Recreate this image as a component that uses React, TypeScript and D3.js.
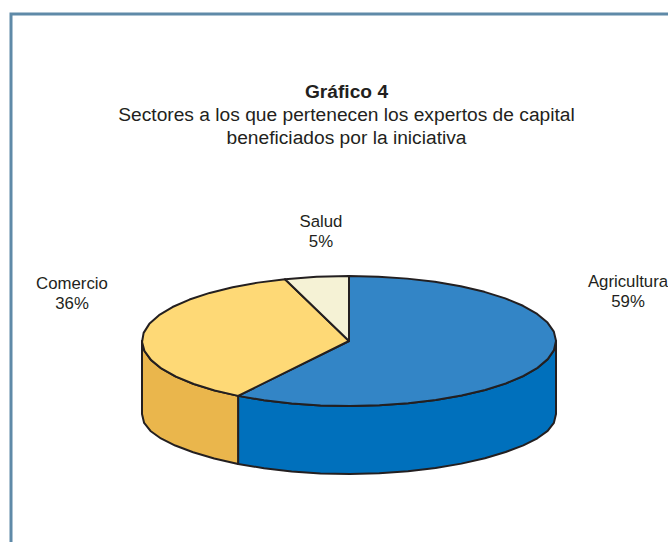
import React from "react";
import * as d3 from "d3";

const categories = ["Agricultura", "Comercio", "Salud"];
const values = [59, 36, 5];
const topColors = ["#3385c6", "#fed976", "#f5f2d5"];
const sideColors = ["#0070bc", "#eab64c", "#f5f2d5"];
const titleLines = ["Sectores a los que pertenecen los expertos de capital", "beneficiados por la iniciativa"];

const W = 668, H = 542;
const cx = 349, cy = 341, rx = 207, ry = 65, depth = 68;
const stroke = "#231f20";

const unitX = d3.scaleLinear().domain([-1, 1]).range([cx - rx, cx + rx]);
const unitY = d3.scaleLinear().domain([-1, 1]).range([cy - ry, cy + ry]);
const pieGen = d3.pie<number>().sort(null).startAngle(0).endAngle(2 * Math.PI);
const arcs = pieGen(values);
const line = d3.line<[number, number]>();

const pt = (a: number, dy = 0): [number, number] => [unitX(Math.sin(a)), unitY(-Math.cos(a)) + dy];
const rim = (a0: number, a1: number, dy = 0) => {
  const n = Math.max(2, Math.round((a1 - a0) / (Math.PI / 22)));
  return d3.range(n + 1).map((i) => pt(a0 + ((a1 - a0) * i) / n, dy));
};

// Visible wall: the front half of the disc (angles from 90deg to 270deg)
const wall = (a0: number, a1: number) => {
  const s = Math.max(a0, Math.PI / 2), e = Math.min(a1, (3 * Math.PI) / 2);
  if (e <= s) return null;
  const top = rim(s, e);
  // the lower rim sits a little lower at the two far ends of the disc
  const bottom = rim(s, e, depth)
    .map(([x, y], i, arr) => {
      const a = s + ((e - s) * i) / (arr.length - 1);
      return [x, y + 5 * Math.pow(Math.abs(Math.sin(a)), 8)] as [number, number];
    })
    .reverse();
  return line([...top, ...bottom]) + "Z";
};

const labelPos = [
  { x: 628, y: 287 },
  { x: 72, y: 289 },
  { x: 321, y: 227 },
];

export default function App() {
  return (
    <svg width={W} height={H} style={{ position: "absolute", left: 0, top: 0, background: "#fff" }}
      fontFamily="'Liberation Sans', Arial, sans-serif" fill="#231f20">
      <path d={`M${W} 14H11V${H}`} fill="none" stroke="#5f8aa8" strokeWidth={3} />
      <text x={346.5} y={98} textAnchor="middle" fontSize={19.2} fontWeight="bold">Gráfico 4</text>
      {titleLines.map((t, i) => (
        <text key={t} x={346.5} y={121 + i * 23} textAnchor="middle" fontSize={19.2}>{t}</text>
      ))}
      {arcs.map((d, i) => {
        const w = wall(d.startAngle, d.endAngle);
        return w ? <path key={i} d={w} fill={sideColors[i]} stroke={stroke} strokeWidth={2} strokeLinejoin="round" /> : null;
      })}
      {arcs.map((d, i) => (
        <path key={i}
          d={line([[cx, cy], ...rim(d.startAngle, d.endAngle)]) + "Z"}
          fill={topColors[i]} stroke={stroke} strokeWidth={2} strokeLinejoin="round" />
      ))}
      {categories.map((c, i) => (
        <text key={c} textAnchor="middle" fontSize={16.8}>
          <tspan x={labelPos[i].x} y={labelPos[i].y}>{c}</tspan>
          <tspan x={labelPos[i].x} y={labelPos[i].y + 20}>{values[i]}%</tspan>
        </text>
      ))}
    </svg>
  );
}
